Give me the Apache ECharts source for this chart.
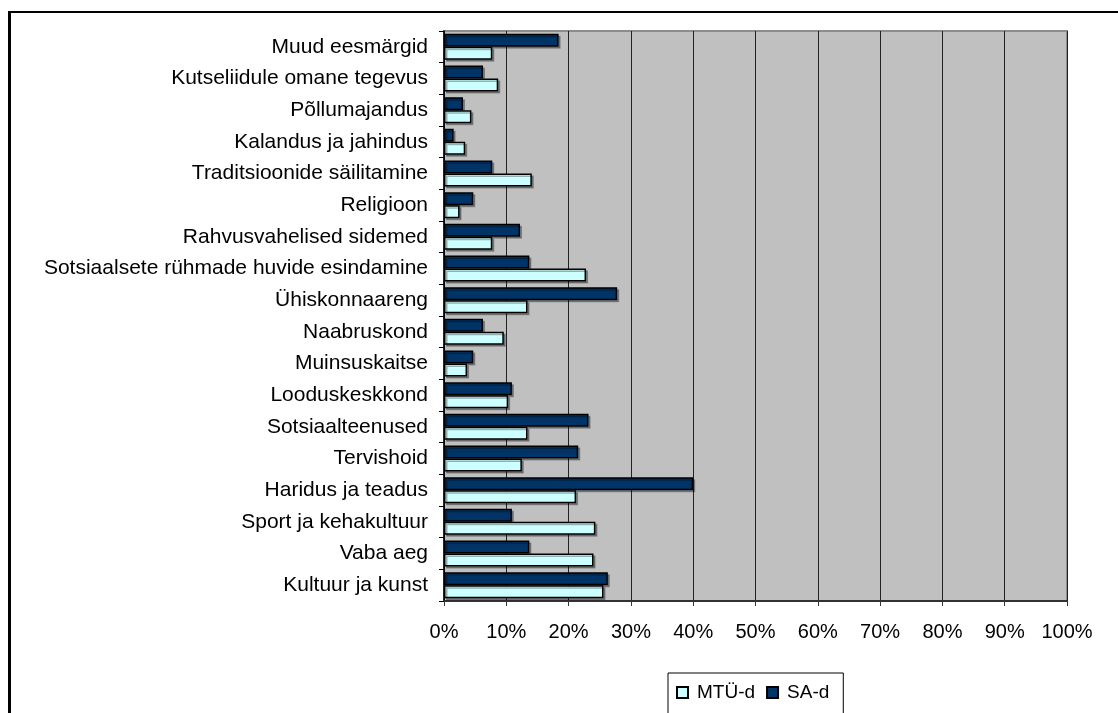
<!DOCTYPE html>
<html>
<head>
<meta charset="utf-8">
<script src="https://cdn.jsdelivr.net/npm/echarts@6/dist/echarts.min.js"></script>
<style>
html,body{margin:0;padding:0;background:#fff;}
#frame{position:absolute;left:8px;top:11px;width:1110px;height:702px;border-top:2px solid #000;border-left:3px solid #000;box-sizing:border-box;}
#chart{position:absolute;left:0;top:0;width:1118px;height:713px;}
</style>
</head>
<body>
<div id="frame"></div>
<div id="chart"></div>
<script>
const categories = [
  "Kultuur ja kunst", "Vaba aeg", "Sport ja kehakultuur", "Haridus ja teadus",
  "Tervishoid", "Sotsiaalteenused", "Looduskeskkond", "Muinsuskaitse",
  "Naabruskond", "Ühiskonnaareng", "Sotsiaalsete rühmade huvide esindamine",
  "Rahvusvahelised sidemed", "Religioon", "Traditsioonide säilitamine",
  "Kalandus ja jahindus", "Põllumajandus", "Kutseliidule omane tegevus", "Muud eesmärgid"
];
const mtuValues = [25.6, 24.0, 24.3, 21.2, 12.5, 13.4, 10.3, 3.7, 9.6, 13.4, 22.8, 7.75, 2.5, 14.1, 3.4, 4.4, 8.7, 7.75];
const saValues  = [26.3, 13.7, 10.9, 40.0, 21.55, 23.2, 10.9, 4.7, 6.26, 27.8, 13.7, 12.2, 4.7, 7.75, 1.55, 3.05, 6.26, 18.4];
const xTicks = [0, 10, 20, 30, 40, 50, 60, 70, 80, 90, 100];

const chart = echarts.init(document.getElementById('chart'), null, {renderer: 'canvas'});
const font = 'Liberation Sans, Arial, sans-serif';
const barShadow = {shadowColor: 'rgba(0,0,0,0.3)', shadowOffsetX: 2, shadowOffsetY: 2, shadowBlur: 0};
chart.setOption({
  animation: false,
  textStyle: {fontFamily: font},
  grid: {left: 444, top: 31, right: 51, bottom: 112, show: true, backgroundColor: '#C0C0C0', borderColor: '#8c8c8c', borderWidth: 2},
  legend: {
    data: [{name: 'MTÜ-d', icon: 'rect'}, {name: 'SA-d', icon: 'rect'}],
    left: 668, top: 673,
    padding: [10, 14, 12, 8],
    borderColor: '#000', borderWidth: 1,
    itemWidth: 11, itemHeight: 11, itemGap: 11,
    textStyle: {fontSize: 19, color: '#000', fontFamily: font, padding: [0, 0, 0, 4]}
  },
  xAxis: {
    type: 'value', min: xTicks[0], max: xTicks[xTicks.length - 1], interval: 10,
    axisLine: {show: true, lineStyle: {color: '#333', width: 2}},
    axisTick: {show: true, length: 5, lineStyle: {color: '#333'}},
    splitLine: {show: true, lineStyle: {color: '#222', width: 1}},
    axisLabel: {margin: 21, fontSize: 20, color: '#000', fontFamily: font, formatter: v => v + '%'}
  },
  yAxis: {
    type: 'category', data: categories,
    axisLine: {show: true, lineStyle: {color: '#000', width: 1.5}},
    axisTick: {show: true, length: 5, inside: false, lineStyle: {color: '#000'}},
    axisLabel: {margin: 16, fontSize: 21, color: '#000', fontFamily: font}
  },
  series: [
    {name: 'SA-d', type: 'bar', data: saValues, barWidth: 13, barGap: '0%',
     itemStyle: Object.assign({color: '#003366', borderColor: '#000', borderWidth: 1.5}, barShadow)},
    {name: 'MTÜ-d', type: 'bar', data: mtuValues, barWidth: 13, barGap: '0%',
     itemStyle: Object.assign({color: '#CCFFFF', borderColor: '#000', borderWidth: 1.5}, barShadow)}
  ]
});
</script>
</body>
</html>
